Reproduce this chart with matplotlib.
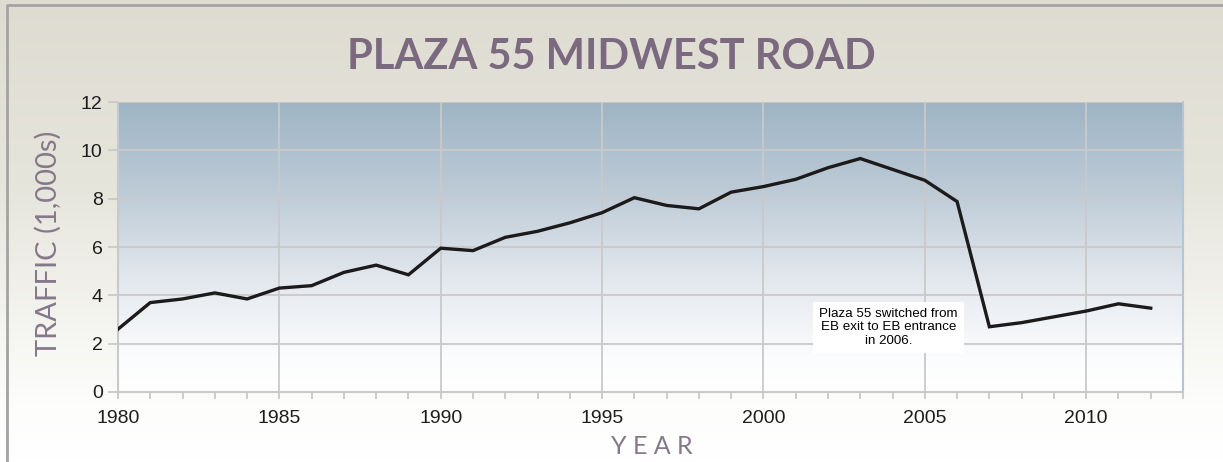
#!/usr/bin/env python3

"""
Plaza 55 Midwest Road yearly traffic, 1980-2012
"""

import numpy as np
import matplotlib
matplotlib.use("Agg")
import matplotlib.pyplot as plt
from matplotlib.colors import LinearSegmentedColormap
from matplotlib.ticker import MultipleLocator

years = list(range(1980, 2013))
traffic = [2.6, 3.7, 3.85, 4.1, 3.85, 4.3, 4.4, 4.95, 5.25, 4.85,
           5.95, 5.85, 6.4, 6.65, 7.0, 7.42, 8.04, 7.72, 7.58, 8.27,
           8.5, 8.8, 9.28, 9.66, 9.21, 8.76, 7.88, 2.7, 2.87, 3.11,
           3.35, 3.65, 3.47]
note = "Plaza 55 switched from\nEB exit to EB entrance\nin 2006."

title_col = "#7b6a7f"
label_col = "#86788b"
grid_col = "#c9c9c9"

fig = plt.figure(figsize=(12.23, 4.62), dpi=100)

# beige backdrop fading out to white toward the bottom
bg = fig.add_axes([0, 0, 1, 1], zorder=-10)
bg_cmap = LinearSegmentedColormap.from_list(
    "bg", [(0, "#ffffff"), (0.12, "#fdfdfc"), (0.6, "#e6e5dc"), (1, "#dedcd1")])
grad = np.linspace(0, 1, 256).reshape(-1, 1)
bg.imshow(grad, aspect="auto", cmap=bg_cmap, origin="lower",
          extent=[0, 1, 0, 1])
bg.plot([7 / 1223, 7 / 1223, 1], [0, 1 - 5 / 462, 1 - 5 / 462],
        color="#a3a3a3", lw=2)
bg.set_xlim(0, 1)
bg.set_ylim(0, 1)
bg.axis("off")

ax = fig.add_axes([118 / 1223, 1 - 392 / 462, 1065 / 1223, 290 / 462])
ax.set_facecolor("none")

# steel blue to white fill of the plot area
pa_cmap = LinearSegmentedColormap.from_list(
    "pa", [(0, "#ffffff"), (0.12, "#fbfcfd"), (0.35, "#e7ebf0"),
           (0.7, "#bccad6"), (1, "#9eb4c4")])
ax.imshow(grad, aspect="auto", cmap=pa_cmap, origin="lower",
          extent=[1980, 2013, 0, 12], zorder=0)

ax.plot(years, traffic, color="#1c1a1b", lw=2.4, zorder=3,
        solid_joinstyle="miter")

ax.set_xlim(1980, 2013)
ax.set_ylim(0, 12)
ax.xaxis.set_major_locator(MultipleLocator(5))
ax.xaxis.set_minor_locator(MultipleLocator(1))
ax.yaxis.set_major_locator(MultipleLocator(2))
ax.grid(True, which="major", color=grid_col, lw=1.3, zorder=1)
ax.set_axisbelow(False)
for l in ax.get_xgridlines() + ax.get_ygridlines():
    l.set_zorder(1)

ax.spines["top"].set_visible(False)
ax.spines["right"].set_color("#b4c6d6")
ax.spines["right"].set_linewidth(1.5)
ax.spines["left"].set_color(grid_col)
ax.spines["bottom"].set_color(grid_col)
ax.spines["left"].set_linewidth(1.5)
ax.spines["bottom"].set_linewidth(1.5)

ax.tick_params(axis="both", which="both", direction="out", color=grid_col,
               width=1.3, labelsize=14, labelcolor="#1e1e1e")
ax.tick_params(axis="x", which="both", length=5, pad=8)
ax.tick_params(axis="y", length=7, pad=4)
for t in ax.get_xticklabels() + ax.get_yticklabels():
    t.set_fontfamily("Liberation Sans")

ax.text(2003.87, 2.67, note, ha="center", va="center", fontsize=9.6,
        family="Liberation Sans", linespacing=1.2, zorder=4,
        bbox=dict(boxstyle="square,pad=0.45", fc="white", ec="none"))

fig.text(611 / 1223, 1 - 57 / 462, "PLAZA 55 MIDWEST ROAD", ha="center",
         va="center", fontsize=30, fontweight="bold", family="Lato",
         color=title_col)
fig.text(652 / 1223, 1 - 446 / 462, "Y E A R", ha="center", va="center",
         fontsize=18, family="Lato", color=label_col)
fig.text(48 / 1223, 1 - 243 / 462, "TRAFFIC (1,000s)", ha="center",
         va="center", rotation=90, fontsize=21, family="Lato",
         color=label_col)

fig.savefig("out.png", dpi=100)
